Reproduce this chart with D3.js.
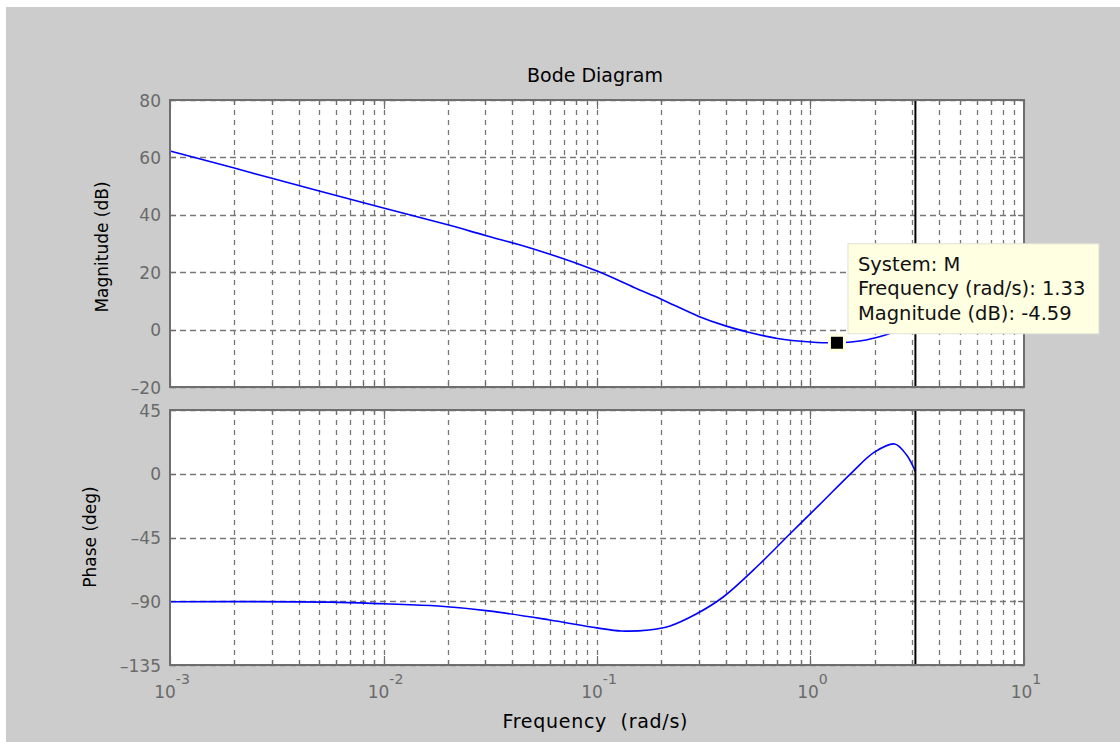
<!DOCTYPE html>
<html>
<head>
<meta charset="utf-8">
<script src="https://cdn.jsdelivr.net/npm/d3@7"></script>
<style>
  body { margin: 0; background: #ffffff; }
  svg { display: block; }
  text { font-family: "DejaVu Sans", Verdana, sans-serif; }
</style>
</head>
<body>
<svg id="chart" width="1120" height="742"></svg>
<script>
// Frequency response samples (rad/s) for the magnitude plot
const magFreq = [0.001, 0.002, 0.003, 0.005, 0.01, 0.02, 0.03, 0.05, 0.1, 0.15, 0.2, 0.3, 0.4, 0.5, 0.7, 1.0, 1.33, 1.7, 2.0, 2.3, 2.7, 3.1];
const magDb   = [62.2, 56.3, 52.7, 48.3, 42.4, 36.5, 32.8, 28.2, 20.4, 14.6, 10.6, 4.6, 1.3, -0.7, -3.1, -4.3, -4.59, -4.0, -2.9, -1.6, 0.2, 1.5];

// Frequency response samples (rad/s) for the phase plot
const phaseFreq = [0.001, 0.0056, 0.01, 0.018, 0.031, 0.06, 0.1, 0.13, 0.175, 0.22, 0.29, 0.39, 0.58, 0.8, 1.1, 1.57, 2.0, 2.48, 2.82, 3.1];
const phaseDeg  = [-90.3, -90.6, -91.8, -93.4, -96.8, -103.2, -108.8, -111, -110.3, -107.4, -99.2, -87.0, -63.5, -42.5, -22, 1.2, 15.4, 21, 13.2, 1.5];

// Axis ticks
const magTicks = [-20, 0, 20, 40, 60, 80];
const phaseTicks = [-135, -90, -45, 0, 45];
const decadeExponents = [-3, -2, -1, 0, 1];

// Data tip and Nyquist frequency line
const tipFreq = 1.33;
const tipMag = -4.59;
const tipLines = ["System: M", "Frequency (rad/s): 1.33", "Magnitude (dB): -4.59"];
const nyquistFreq = 3.1;

const svg = d3.select("#chart");
const W = 1120, H = 742;

// figure background
svg.append("rect").attr("x", 6).attr("y", 7).attr("width", W - 6).attr("height", H - 7).attr("fill", "#cccccc");

const left = 170, right = 1024;
const magBox = { top: 100, bottom: 387 };
const phBox = { top: 410, bottom: 665 };

const x = d3.scaleLog().domain([1e-3, 1e1]).range([left, right]);
const yMag = d3.scaleLinear().domain([-20, 80]).range([magBox.bottom, magBox.top]);
const yPh = d3.scaleLinear().domain([-135, 45]).range([phBox.bottom, phBox.top]);

// every 1..9 x 10^k position inside the frequency range
const minorFreqs = [];
for (let e = -3; e < 1; e++) {
  for (let k = 1; k <= 9; k++) minorFreqs.push(k * Math.pow(10, e));
}
minorFreqs.push(10);

const gridColor = "#777777";
const boxColor = "#6e6e6e";
const tickColor = "#6a6a6a";

function panel(box, y, ticks) {
  const g = svg.append("g");
  g.append("rect").attr("x", left).attr("y", box.top)
    .attr("width", right - left).attr("height", box.bottom - box.top)
    .attr("fill", "#ffffff");

  // vertical grid
  g.selectAll(null).data(minorFreqs.filter(f => f > 1e-3 && f < 10)).enter()
    .append("line")
    .attr("x1", d => Math.round(x(d)) + 0.5).attr("x2", d => Math.round(x(d)) + 0.5)
    .attr("y1", box.top).attr("y2", box.bottom)
    .attr("stroke", gridColor).attr("stroke-width", 1.3).attr("stroke-dasharray", "5,5");

  // horizontal grid
  g.selectAll(null).data(ticks).enter()
    .append("line")
    .attr("x1", left).attr("x2", right)
    .attr("y1", d => Math.round(y(d)) + 0.5).attr("y2", d => Math.round(y(d)) + 0.5)
    .attr("stroke", gridColor).attr("stroke-width", 1.3).attr("stroke-dasharray", "6,4");

  // inward tick marks on all four sides
  const isDecade = f => Math.abs(Math.log10(f) - Math.round(Math.log10(f))) < 1e-9;
  minorFreqs.forEach(f => {
    const len = isDecade(f) ? 9 : 5;
    const px = Math.round(x(f)) + 0.5;
    g.append("line").attr("x1", px).attr("x2", px).attr("y1", box.bottom).attr("y2", box.bottom - len)
      .attr("stroke", boxColor).attr("stroke-width", 1.2);
    g.append("line").attr("x1", px).attr("x2", px).attr("y1", box.top).attr("y2", box.top + len)
      .attr("stroke", boxColor).attr("stroke-width", 1.2);
  });
  ticks.forEach(t => {
    const py = Math.round(y(t)) + 0.5;
    g.append("line").attr("x1", left).attr("x2", left + 6).attr("y1", py).attr("y2", py)
      .attr("stroke", boxColor).attr("stroke-width", 1.2);
    g.append("line").attr("x1", right).attr("x2", right - 6).attr("y1", py).attr("y2", py)
      .attr("stroke", boxColor).attr("stroke-width", 1.2);
  });

  // y tick labels
  g.selectAll(null).data(ticks).enter()
    .append("text")
    .attr("x", 161).attr("y", d => y(d) + 6.5)
    .attr("text-anchor", "end").attr("font-size", 17).attr("fill", tickColor)
    .text(d => d < 0 ? "\u2013" + Math.abs(d) : d);

  return g;
}

const gMag = panel(magBox, yMag, magTicks);
const gPh = panel(phBox, yPh, phaseTicks);

// response curves
const magLine = d3.line().x(d => x(d[0])).y(d => yMag(d[1])).curve(d3.curveCatmullRom.alpha(0.5));
const phLine = d3.line().x(d => x(d[0])).y(d => yPh(d[1])).curve(d3.curveCatmullRom.alpha(0.5));

gMag.append("path").datum(magFreq.map((f, i) => [f, magDb[i]]))
  .attr("d", magLine).attr("fill", "none").attr("stroke", "#0000ff").attr("stroke-width", 1.6);
gPh.append("path").datum(phaseFreq.map((f, i) => [f, phaseDeg[i]]))
  .attr("d", phLine).attr("fill", "none").attr("stroke", "#0000ff").attr("stroke-width", 1.6);

// Nyquist frequency line in each panel
[[gMag, magBox], [gPh, phBox]].forEach(([g, box]) => {
  g.append("line")
    .attr("x1", x(nyquistFreq)).attr("x2", x(nyquistFreq))
    .attr("y1", box.top).attr("y2", box.bottom)
    .attr("stroke", "#000000").attr("stroke-width", 2);
});

// axes boxes
[magBox, phBox].forEach(box => {
  svg.append("rect").attr("x", left).attr("y", box.top)
    .attr("width", right - left).attr("height", box.bottom - box.top)
    .attr("fill", "none").attr("stroke", boxColor).attr("stroke-width", 2);
});

// x tick labels (powers of ten)
const xl = svg.selectAll(null).data(decadeExponents).enter()
  .append("text")
  .attr("x", d => x(Math.pow(10, d)) + 2).attr("y", 698)
  .attr("text-anchor", "middle").attr("font-size", 17).attr("fill", tickColor);
xl.append("tspan").text("10");
xl.append("tspan").attr("dy", -14).attr("font-size", 14).text(d => d < 0 ? "-" + Math.abs(d) : d);

// titles and axis labels
svg.append("text").attr("x", 595).attr("y", 82)
  .attr("text-anchor", "middle").attr("font-size", 19).attr("fill", "#000").text("Bode Diagram");
svg.append("text").attr("x", 595).attr("y", 728)
  .attr("text-anchor", "middle").attr("font-size", 19).attr("fill", "#000")
  .attr("xml:space", "preserve").attr("textLength", 185).attr("lengthAdjust", "spacing")
  .text("Frequency  (rad/s)");
svg.append("text").attr("transform", "translate(108,247) rotate(-90)")
  .attr("text-anchor", "middle").attr("font-size", 17).attr("fill", "#000").text("Magnitude (dB)");
svg.append("text").attr("transform", "translate(96,537) rotate(-90)")
  .attr("text-anchor", "middle").attr("font-size", 17).attr("fill", "#000").text("Phase (deg)");

// data tip marker and its label box
const mx = x(tipFreq), my = yMag(tipMag);
svg.append("rect").attr("x", mx - 7.5).attr("y", my - 7.5).attr("width", 15).attr("height", 15)
  .attr("fill", "#000").attr("stroke", "#ffffe1").attr("stroke-width", 3);
const tipG = svg.append("g").attr("transform", `translate(${mx + 11},${my - 99})`);
tipG.append("rect").attr("x", 0).attr("y", 0).attr("width", 251).attr("height", 90)
  .attr("fill", "#ffffe1").attr("stroke", "#e2e2d4").attr("stroke-width", 1);
tipG.selectAll(null).data(tipLines).enter()
  .append("text")
  .attr("x", 10).attr("y", (d, i) => 27 + i * 24.5)
  .attr("font-size", 19.5).attr("fill", "#111").text(d => d);
</script>
</body>
</html>
